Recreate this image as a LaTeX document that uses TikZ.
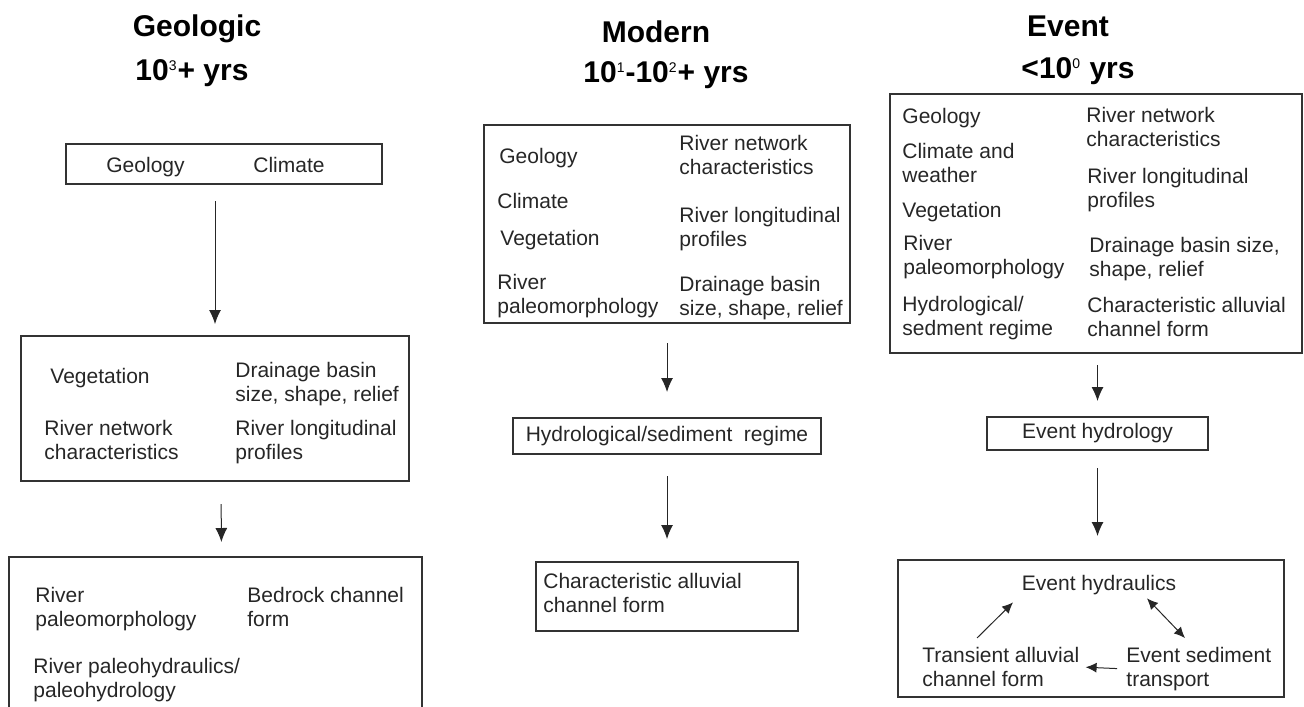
\documentclass[tikz,border=0pt]{standalone}
\usepackage{fontspec}
\setmainfont{Liberation Sans}
\usetikzlibrary{arrows.meta}

\newcommand{\supr}[1]{\textsuperscript{\mdseries\fontsize{7}{8}\selectfont #1}}

\begin{document}
\begin{tikzpicture}[x=0.5pt, y=-0.5pt]
			\tikzstyle{boxr}=[draw=black!80, line width=1pt, inner sep=0pt]
			\tikzstyle{itm}=[align=left, anchor=north west, inner sep=0pt, text=black!85, font=\fontsize{10.5}{11.8}\selectfont]
			\tikzstyle{ttl}=[anchor=base, inner sep=0pt, font=\fontsize{15}{18}\selectfont\bfseries]
			\tikzstyle{arr}=[-{Latex[length=7pt,width=6pt]}, line width=0.5pt, draw=black!85]
			\tikzstyle{arrs}=[-{Latex[length=5.5pt,width=5pt]}, line width=0.5pt, draw=black!85]
			\useasboundingbox (0,0) rectangle (1304,706);
			%%
			%% titles
			\node (tg) at (197,37) [ttl] {Geologic};
			\node (yg) at (192,81) [ttl] {10\supr{3}+ yrs};
			\node (tm) at (656,43) [ttl] {Modern};
			\node (ym) at (666,83) [ttl] {10\supr{1}-10\supr{2}+ yrs};
			\node (te) at (1068,37) [ttl] {Event};
			\node (ye) at (1078,79) [ttl] {<10\supr{0} yrs};
			
			%% geologic
			\node (g1) at (224,164) [boxr, minimum width=158pt, minimum height=20pt] {};
			\node (g2) at (215,408.5) [boxr, minimum width=194pt, minimum height=72.5pt] {};
			\node (g3) at (215.5,638.5) [boxr, minimum width=206.5pt, minimum height=81.5pt] {};
			
			\node (g1a) at (106,157) [itm] {Geology};
			\node (g1b) at (253,157) [itm] {Climate};
			\node (g2a) at (50,368) [itm] {Vegetation};
			\node (g2b) at (235,362) [itm] {Drainage basin\\size, shape, relief};
			\node (g2c) at (44,420) [itm] {River network\\characteristics};
			\node (g2d) at (235,420) [itm] {River longitudinal\\profiles};
			\node (g3a) at (35,587) [itm] {River\\paleomorphology};
			\node (g3b) at (247,587) [itm] {Bedrock channel\\form};
			\node (g3c) at (33,658) [itm] {River paleohydraulics/\\paleohydrology};
			
			\draw [arr, shorten <=8pt, shorten >=5.5pt] (g2.north |- g1.south) -- (g2.north);
			\draw [arr, shorten <=11pt, shorten >=7pt] ([xshift=3pt]g2.south) -- ([xshift=3pt]g3.north);
			
			%% modern
			\node (m1) at (667,224) [boxr, minimum width=183pt, minimum height=99pt] {};
			\node (m2) at (667,436) [boxr, minimum width=154pt, minimum height=18pt, text=black!85, font=\fontsize{10.5}{11.8}\selectfont] {Hydrological/sediment\ \ regime};
			\node (m3) at (667,596.5) [boxr, minimum width=131pt, minimum height=34.5pt] {};
			
			\node (m1a) at (499,148) [itm] {Geology};
			\node (m1b) at (497,193) [itm] {Climate};
			\node (m1c) at (500,230) [itm] {Vegetation};
			\node (m1d) at (497,274) [itm] {River\\paleomorphology};
			\node (m1e) at (679,135) [itm] {River network\\characteristics};
			\node (m1f) at (679,207) [itm] {River longitudinal\\profiles};
			\node (m1g) at (679,276) [itm] {Drainage basin\\size, shape, relief};
			\node (m3a) at (543,573) [itm] {Characteristic alluvial\\channel form};
			
			\draw [arr, shorten <=9.5pt, shorten >=12.5pt] (m1) -- (m2);
			\draw [arr, shorten <=10.5pt, shorten >=11pt] (m2) -- (m3);
			
			%% event
			\node (e1) at (1096,223.5) [boxr, minimum width=206pt, minimum height=129.5pt] {};
			\node (e2) at (1097.5,433.5) [boxr, minimum width=110.5pt, minimum height=16.5pt, text=black!85, font=\fontsize{10.5}{11.8}\selectfont] {Event hydrology};
			\node (e3) at (1091,628.5) [boxr, minimum width=193pt, minimum height=68.5pt] {};
			
			\node (e1a) at (902,108) [itm] {Geology};
			\node (e1b) at (902,143) [itm] {Climate and\\weather};
			\node (e1c) at (902,202) [itm] {Vegetation};
			\node (e1d) at (903,235) [itm] {River\\paleomorphology};
			\node (e1e) at (902,296) [itm] {Hydrological/\\sedment regime};
			\node (e1f) at (1086,107) [itm] {River network\\characteristics};
			\node (e1g) at (1087,168) [itm] {River longitudinal\\profiles};
			\node (e1h) at (1089,237) [itm] {Drainage basin size,\\shape, relief};
			\node (e1i) at (1087,297) [itm] {Characteristic alluvial\\channel form};
			
			\node (eh) at (1099,575) [itm, anchor=north] {Event hydraulics};
			\node (tr) at (922,647) [itm] {Transient alluvial\\channel form};
			\node (es) at (1126,647) [itm] {Event sediment\\transport};
			
			\draw [arr, shorten <=5.5pt, shorten >=7.5pt] (e1.south -| e2.south) -- (e2.north);
			\draw [arr, shorten <=8.5pt, shorten >=11.5pt] (e2.south) -- (e2.south |- e3.north);
			
			\draw [arrs] ([xshift=27.5pt, yshift=4.5pt]tr.north west) -- ([xshift=-4.25pt, yshift=-3.5pt]eh.south west);
			\draw [arrs, {Latex[length=5.5pt,width=5pt]}-{Latex[length=5.5pt,width=5pt]}] ([xshift=-14.75pt, yshift=-1.5pt]eh.south east) -- ([xshift=29.5pt, yshift=4.5pt]es.north west);
			\draw [arrs, shorten <=4.5pt, shorten >=3pt] (es.west) -- (tr.east);
\end{tikzpicture}
\end{document}
